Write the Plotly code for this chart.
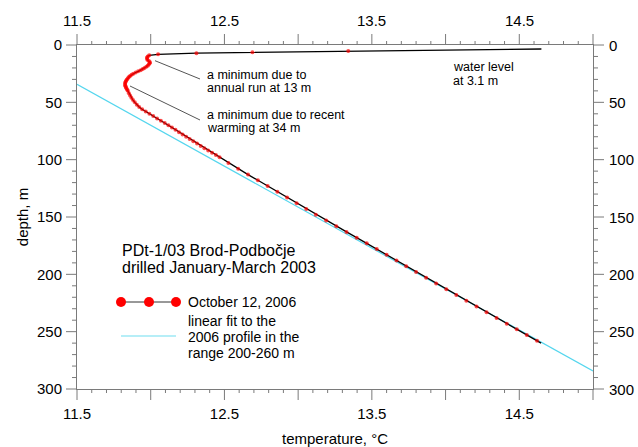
import plotly.graph_objects as go

depth_m = [3.5, 5.2, 6.3, 7.1, 8.1,
           9, 10, 11, 12, 13, 14, 15, 16, 17, 18, 19, 20, 21, 22, 23, 24, 25,
           26, 27, 28, 29, 30, 31, 32, 33, 34, 35, 36, 37, 38, 39, 40,
           42, 44, 46, 48, 50, 52, 54, 56, 58, 60, 62, 64, 66, 68, 70, 72, 74,
           76, 78, 80, 82, 84, 86, 88, 90, 92, 94, 96, 98,
           103, 108, 113, 118, 123, 128, 133, 138, 143, 148, 153, 158, 163,
           168, 173, 178, 183, 188, 193, 198, 203, 208, 213, 218, 223, 228,
           233, 238, 243, 248, 253, 258, 260]
temp_c = [14.65, 13.34, 12.69, 12.31, 12.05,
          11.99, 11.98, 11.975, 11.975, 11.978, 11.988, 11.995, 11.993, 11.987,
          11.98, 11.97, 11.958, 11.946, 11.932, 11.915, 11.898, 11.882,
          11.87, 11.86, 11.852, 11.845, 11.839, 11.834, 11.83, 11.827, 11.826,
          11.827, 11.829, 11.832, 11.836, 11.84, 11.845,
          11.852, 11.86, 11.869, 11.88, 11.892, 11.906, 11.922, 11.942, 11.966,
          11.991, 12.017, 12.043, 12.069, 12.095, 12.12, 12.144, 12.168,
          12.192, 12.216, 12.24, 12.264, 12.289, 12.314, 12.339, 12.364,
          12.39, 12.416, 12.442, 12.467,
          12.527, 12.593, 12.66, 12.727, 12.793, 12.859, 12.925, 12.99, 13.055,
          13.12, 13.19, 13.259, 13.328, 13.397, 13.465, 13.533, 13.6, 13.667,
          13.733, 13.8, 13.868, 13.936, 14.005, 14.073, 14.141, 14.21,
          14.278, 14.346, 14.415, 14.483, 14.551, 14.62, 14.648]

# Linear fit to the 2006 profile in the range 200-260 m (end points)
fit_temp_c = [11.5, 15.0]
fit_depth_m = [34.2, 284.3]

# Axis ticks
x_tickvals = [11.5, 12.0, 12.5, 13.0, 13.5, 14.0, 14.5, 15.0]
x_ticktext = ["11.5", "", "12.5", "", "13.5", "", "14.5", ""]
y_tickvals = [0, 50, 100, 150, 200, 250, 300]
y_ticktext = ["0", "50", "100", "150", "200", "250", "300"]
x_range = [11.5, 15.0]
y_range = [300, 0]
x_minor_step = 0.1
y_minor_step = 10

FONT = "Arial, Liberation Sans, sans-serif"
AXC = "#7a7a7a"
NOGRID = "rgba(0,0,0,0)"

# plot-area size in pixels (fixed margins)
W, H = 638, 447
ML, MR, MT, MB = 77, 45, 45, 58
PW, PH = W - ML - MR, H - MT - MB

# hide markers on the first and last point (line ends only)
marker_sizes = [0] + [4] * (len(depth_m) - 2) + [0]

fig = go.Figure()
fig.add_trace(go.Scatter(x=fit_temp_c, y=fit_depth_m, mode="lines",
                         line=dict(color="#55d6ee", width=1.2),
                         showlegend=False, hoverinfo="skip"))
fig.add_trace(go.Scatter(x=temp_c, y=depth_m, mode="lines",
                         line=dict(color="black", width=1.3),
                         showlegend=False))
fig.add_trace(go.Scatter(x=temp_c, y=depth_m, mode="markers",
                         marker=dict(color="#ff0000", size=marker_sizes, line=dict(width=0)),
                         showlegend=False))

fig.update_layout(
    width=W, height=H,
    margin=dict(l=ML, r=MR, t=MT, b=MB, autoexpand=False),
    paper_bgcolor="white", plot_bgcolor="white",
    xaxis=dict(range=x_range, tickmode="array", tickvals=x_tickvals, ticktext=x_ticktext,
               ticks="outside", ticklen=11, tickcolor=NOGRID,
               showline=True, linecolor=AXC, mirror=True, gridcolor=NOGRID, zerolinecolor=NOGRID,
               tickfont=dict(family=FONT, size=15, color="black"),
               title=dict(text="temperature, °C", font=dict(family=FONT, size=15, color="black"),
                          standoff=12)),
    yaxis=dict(range=y_range, tickmode="array", tickvals=y_tickvals, ticktext=y_ticktext,
               ticks="outside", ticklen=11, tickcolor=NOGRID,
               showline=True, linecolor=AXC, mirror=True, gridcolor=NOGRID, zerolinecolor=NOGRID,
               tickfont=dict(family=FONT, size=15, color="black"),
               title=dict(text="depth, m", font=dict(family=FONT, size=15, color="black"),
                          standoff=4)),
)

# helper: pixel -> data (plot area 77..593 x, 45..389 y)
def tx(px):
    return x_range[0] + (px - ML) / (PW / (x_range[1] - x_range[0]))

def dy(py):
    return (py - MT) / (PH / (y_range[0] - y_range[1]))

def xfrac(v):
    return (v - x_range[0]) / (x_range[1] - x_range[0])

def yfrac(v):
    return (v - y_range[0]) / (y_range[1] - y_range[0])

shapes = []
# tick marks on all four sides (drawn as paper shapes)
def xtick(v, length):
    f = xfrac(v)
    for base, sgn in ((0, -1), (1, 1)):
        shapes.append(dict(type="line", xref="paper", yref="paper", x0=f, x1=f,
                           y0=base, y1=base + sgn * length / PH,
                           line=dict(color=AXC, width=1)))

def ytick(v, length):
    f = yfrac(v)
    for base, sgn in ((0, -1), (1, 1)):
        shapes.append(dict(type="line", xref="paper", yref="paper", y0=f, y1=f,
                           x0=base, x1=base + sgn * length / PW,
                           line=dict(color=AXC, width=1)))

n_xminor = int(round((x_range[1] - x_range[0]) / x_minor_step))
for i in range(n_xminor + 1):
    v = round(x_range[0] + i * x_minor_step, 6)
    if not any(abs(v - t) < 1e-6 for t in x_tickvals):
        xtick(v, 4)
for v in x_tickvals:
    xtick(v, 11)
n_yminor = int(round((y_range[0] - y_range[1]) / y_minor_step))
for i in range(n_yminor + 1):
    v = y_range[1] + i * y_minor_step
    if v not in y_tickvals:
        ytick(v, 5)
for v in y_tickvals:
    ytick(v, 11)

# leader lines
shapes.append(dict(type="line", xref="x", yref="y", x0=tx(155), y0=dy(60.7), x1=tx(200), y1=dy(79),
                   line=dict(color="#555555", width=1)))
shapes.append(dict(type="line", xref="x", yref="y", x0=tx(130), y0=dy(86), x1=tx(200), y1=dy(120),
                   line=dict(color="#555555", width=1)))
# legend glyphs
shapes.append(dict(type="line", xref="x", yref="y", x0=tx(121), y0=dy(302), x1=tx(176), y1=dy(302),
                   line=dict(color="#333333", width=1)))
for px in (121, 149, 176):
    shapes.append(dict(type="circle", xref="x", yref="y", xsizemode="pixel", ysizemode="pixel",
                       xanchor=tx(px), yanchor=dy(302), x0=-5, x1=5, y0=-5, y1=5,
                       fillcolor="#ff0000", line=dict(width=0)))
shapes.append(dict(type="line", xref="x", yref="y", x0=tx(121), y0=dy(336), x1=tx(176), y1=dy(336),
                   line=dict(color="#9ee8f5", width=1.5)))
fig.update_layout(shapes=shapes)

def note(text, px, py, size):
    return dict(text=text, x=tx(px), y=dy(py), xref="x", yref="y", xanchor="left",
                yanchor="middle", showarrow=False, font=dict(family=FONT, size=size, color="black"))

anns = [
    note("a minimum due to", 205, 75, 12.5),
    note("annual run at 13 m", 205, 88, 12.5),
    note("a minimum due to recent", 205, 115, 12.5),
    note("warming at 34 m", 205, 128.3, 12.5),
    note("water level", 451, 66.7, 12.5),
    note("at 3.1 m", 451, 80.5, 12.5),
    note("PDt-1/03 Brod-Podbočje", 119.5, 250, 16),
    note("drilled January-March 2003", 119.5, 267, 16),
    note("October 12, 2006", 185.5, 302, 14),
    note("linear fit to the", 185.5, 321, 14),
    note("2006 profile in the", 185.5, 336.7, 14),
    note("range 200-260 m", 185.5, 353.3, 14),
]
# mirrored tick labels on the top and right axes
for v, t in zip(x_tickvals, x_ticktext):
    if t:
        anns.append(dict(text=t, x=v, y=1, xref="x", yref="paper", xanchor="center",
                         yanchor="middle", yshift=25, showarrow=False,
                         font=dict(family=FONT, size=15, color="black")))
for v, t in zip(y_tickvals, y_ticktext):
    anns.append(dict(text=t, x=1, y=v, xref="paper", yref="y", xanchor="left",
                     yanchor="middle", xshift=14, showarrow=False,
                     font=dict(family=FONT, size=15, color="black")))
fig.update_layout(annotations=anns)

fig.write_html("out.html", config={"displayModeBar": False},
               post_script="document.body.style.margin='0px';document.body.style.padding='0px';")
